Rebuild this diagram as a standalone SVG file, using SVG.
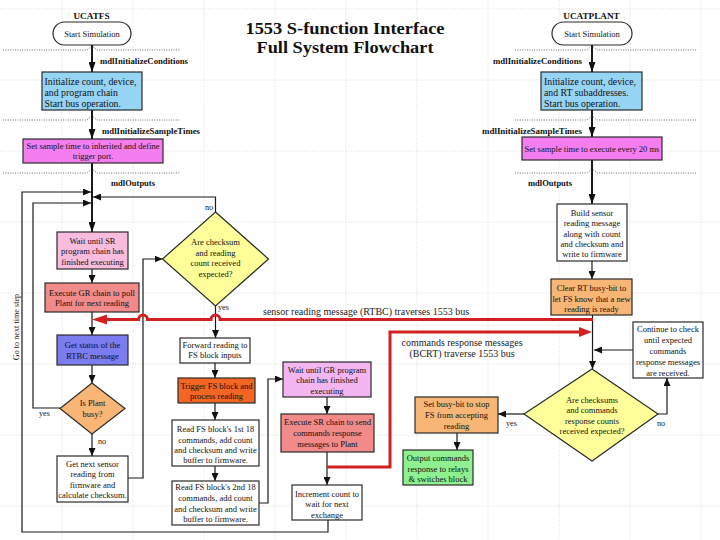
<svg xmlns="http://www.w3.org/2000/svg" width="720" height="540" viewBox="0 0 720 540">
<defs>
<style>
.grid{stroke:#cfcfcf;stroke-width:0.7;stroke-dasharray:1 1.6;fill:none}
.sep{stroke:#555;stroke-width:0.9;stroke-dasharray:1 1.4;fill:none}
.box{stroke:#2a2a2a;stroke-width:1.2}
.t{font-family:"Liberation Serif","Times New Roman",serif;font-size:8.5px;text-anchor:middle;fill:#111}
.tb{font-family:"Liberation Serif","Times New Roman",serif;font-size:9.8px;fill:#111}
.lbl{font-family:"Liberation Serif","Times New Roman",serif;font-size:8.6px;font-weight:bold;fill:#111}
.hd{font-family:"Liberation Serif","Times New Roman",serif;font-size:9.2px;font-weight:bold;text-anchor:middle;fill:#111}
.yn{font-family:"Liberation Serif","Times New Roman",serif;font-size:8.2px;fill:#222}
.bus{font-family:"Liberation Serif","Times New Roman",serif;font-size:10px;fill:#222}
.ttl{font-family:"Liberation Serif","Times New Roman",serif;font-size:17px;font-weight:bold;text-anchor:middle;fill:#111}
.c{stroke:#1a1a1a;stroke-width:1.2;fill:none;marker-end:url(#ah)}
.ct{stroke:#1a1a1a;stroke-width:2;fill:none;marker-end:url(#ahb)}
.red{stroke:#d42020;stroke-width:3;fill:none}
</style>
<marker id="ah" viewBox="0 0 8 7" refX="8" refY="3.5" markerWidth="8" markerHeight="7" markerUnits="userSpaceOnUse" orient="auto"><path d="M0,0 L8,3.5 L0,7 z" fill="#111"/></marker>
<marker id="ahb" viewBox="0 0 10 7" refX="10" refY="3.5" markerWidth="10" markerHeight="7" markerUnits="userSpaceOnUse" orient="auto"><path d="M0,0 L10,3.5 L0,7 z" fill="#111"/></marker>
</defs>
<rect width="720" height="540" fill="#ffffff"/>
<g id="grid">
<path class="grid" d="M62,0V540M133,0V540M204,0V540M275,0V540M346,0V540M417,0V540M488,0V540M559,0V540M630,0V540M701,0V540"/>
<path class="grid" d="M0,9H720M0,80H720M0,151H720M0,222H720M0,293H720M0,364H720M0,435H720M0,506H720"/>
</g>
<g id="separators">
<path class="sep" d="M3,50H87L90,47.5Q92,45.5 94,47.5L97,50H180M3,120H87L90,117.5Q92,115.5 94,117.5L97,120H180M3,173H87L90,170.5Q92,168.5 94,170.5L97,173H180"/>
<path class="sep" d="M515,50H587L590,47.5Q592,45.5 594,47.5L597,50H697M515,120H587L590,117.5Q592,115.5 594,117.5L597,120H697M515,173H587L590,170.5Q592,168.5 594,170.5L597,173H697"/>
</g>
<g id="title">
<text class="ttl" x="345" y="34" textLength="199" lengthAdjust="spacingAndGlyphs">1553 S-function Interface</text>
<text class="ttl" x="345" y="53" textLength="177" lengthAdjust="spacingAndGlyphs">Full System Flowchart</text>
</g>
<g id="connectors">
<path class="ct" d="M92,45V72"/>
<path class="ct" d="M92,110V139"/>
<path class="ct" d="M92,163V232"/>
<path class="c" d="M92,269V283"/>
<path class="c" d="M92,312V335"/>
<path class="c" d="M92,365V383"/>
<path class="c" d="M92,434V456"/>
<path class="c" d="M128,478H143V259H162.5"/>
<path class="c" d="M60,408H33V203H91"/>
<path class="c" d="M328,520V532H22V192H91"/>
<path class="c" d="M215.5,212V197H93"/>
<path class="c" d="M215.5,306V338"/>
<path class="c" d="M215,363V378"/>
<path class="c" d="M215,403V420"/>
<path class="c" d="M215,466V481"/>
<path class="c" d="M259,503H268V379H283"/>
<path class="c" d="M327,397V414"/>
<path class="c" d="M327,452V485"/>
<path class="ct" d="M592,45V72"/>
<path class="ct" d="M592,110V137"/>
<path class="ct" d="M592,160V204"/>
<path class="c" d="M592,261V279"/>
<path class="c" d="M592.5,315V369"/>
<path class="c" d="M633,350H594"/>
<path class="c" d="M658,414H667V378"/>
<path class="c" d="M524,414H498"/>
<path class="c" d="M457,433V450"/>
<path class="red" d="M593,319.5H220A4.5,4.5 0 0 0 211,319.5H147.5A4.5,4.5 0 0 0 138.5,319.5H104"/>
<polygon points="92,319.5 107,314.5 107,324.5" fill="#d42020"/>
<path class="red" d="M327,467H390V332H580"/>
<polygon points="592,332 579,327 579,337" fill="#d42020"/>
<text class="lbl" x="100" y="63.5" textLength="88" lengthAdjust="spacingAndGlyphs">mdlInitializeConditions</text>
<text class="lbl" x="102" y="134" textLength="98" lengthAdjust="spacingAndGlyphs">mdlInitializeSampleTimes</text>
<text class="lbl" x="111" y="186" textLength="44" lengthAdjust="spacingAndGlyphs">mdlOutputs</text>
<text class="lbl" x="493" y="63.5" textLength="89" lengthAdjust="spacingAndGlyphs">mdlInitializeConditions</text>
<text class="lbl" x="482" y="134" textLength="100" lengthAdjust="spacingAndGlyphs">mdlInitializeSampleTimes</text>
<text class="lbl" x="528" y="186" textLength="44" lengthAdjust="spacingAndGlyphs">mdlOutputs</text>
<text class="yn" x="205" y="209.5">no</text>
<text class="yn" x="218" y="310">yes</text>
<text class="yn" x="39" y="415.5">yes</text>
<text class="yn" x="98" y="443.5">no</text>
<text class="yn" x="506" y="426">yes</text>
<text class="yn" x="657" y="426">no</text>
<text class="yn" x="19" y="327" font-size="8.6" text-anchor="middle" transform="rotate(-90 19 327)">Go to next time step</text>
<text class="bus" x="263" y="315">sensor reading message (RTBC) traverses 1553 bus</text>
<text class="bus" x="462" y="346" text-anchor="middle">commands response messages</text>
<text class="bus" x="462" y="357" text-anchor="middle">(BCRT) traverse 1553 bus</text>
</g>
<g id="ucatfs-head"><text class="hd" x="91.5" y="19">UCATFS</text></g>
<g id="ucatplant-head"><text class="hd" x="591.5" y="19">UCATPLANT</text></g>
<g id="start-fs"><rect class="box" x="53" y="22" width="78" height="23" rx="11.5" fill="#fff"/><text class="t" x="92" y="37" font-size="10">Start Simulation</text></g>
<g id="init-fs"><rect class="box" x="42" y="72" width="100" height="38" fill="#96d4f4"/><text class="tb" x="44.5" y="84.5">Initialize count, device,</text><text class="tb" x="44.5" y="95.5">and program chain</text><text class="tb" x="44.5" y="106.5">Start bus operation.</text></g>
<g id="sample-fs"><rect class="box" x="23" y="139" width="140" height="24" fill="#f47ef0"/><text class="t" x="93" y="149"><tspan x="93" y="149">Set sample time to inherited and define</tspan><tspan x="93" y="159">trigger port.</tspan></text></g>
<g id="wait-sr"><rect class="box" x="57" y="232" width="71" height="37" fill="#f9bcdc"/><text class="t"><tspan x="92.5" y="243.5">Wait until SR</tspan><tspan x="92.5" y="254">program chain has</tspan><tspan x="92.5" y="264.5">finished executing</tspan></text></g>
<g id="exec-gr"><rect class="box" x="45" y="283" width="94" height="29" fill="#f28a8a"/><text class="t"><tspan x="92" y="296">Execute GR chain to poll</tspan><tspan x="92" y="306">Plant for next reading</tspan></text></g>
<g id="get-status"><rect class="box" x="57" y="335" width="71" height="30" fill="#7a7cf0"/><text class="t"><tspan x="92.5" y="348">Get status of the</tspan><tspan x="92.5" y="359">RTBC message</tspan></text></g>
<g id="plant-busy"><polygon class="box" points="92,383 125,408.5 92,434 60,408.5" fill="#f8b676"/><text class="t"><tspan x="92.5" y="406">Is Plant</tspan><tspan x="92.5" y="416.5">busy?</tspan></text></g>
<g id="get-next"><rect class="box" x="57" y="456" width="71" height="46" fill="#fff"/><text class="t"><tspan x="92.5" y="466.5">Get next sensor</tspan><tspan x="92.5" y="477">reading from</tspan><tspan x="92.5" y="487.5">firmware and</tspan><tspan x="92.5" y="498">calculate checksum.</tspan></text></g>
<g id="check-reading"><polygon class="box" points="215.5,212 268.5,259 215.5,306 162.5,259" fill="#ffff99"/><text class="t" font-size="8.2"><tspan x="215.5" y="245">Are checksum</tspan><tspan x="215.5" y="255.5">and reading</tspan><tspan x="215.5" y="266">count received</tspan><tspan x="215.5" y="276.5">expected?</tspan></text></g>
<g id="forward"><rect class="box" x="180" y="338" width="70" height="25" fill="#fff"/><text class="t"><tspan x="215" y="347.5">Forward reading to</tspan><tspan x="215" y="358">FS block inputs</tspan></text></g>
<g id="trigger"><rect class="box" x="178" y="378" width="77" height="25" fill="#f26522"/><text class="t" fill="#4a1000"><tspan x="216.5" y="388.5">Trigger FS block and</tspan><tspan x="216.5" y="399">process reading</tspan></text></g>
<g id="read1"><rect class="box" x="172" y="420" width="87" height="46" fill="#fff"/><text class="t"><tspan x="215.5" y="431.5">Read FS block's 1st 18</tspan><tspan x="215.5" y="442.5">commands, add count</tspan><tspan x="215.5" y="452.5">and checksum and write</tspan><tspan x="215.5" y="462.5">buffer to firmware.</tspan></text></g>
<g id="read2"><rect class="box" x="172" y="481" width="87" height="44" fill="#fff"/><text class="t"><tspan x="215.5" y="490">Read FS block's 2nd 18</tspan><tspan x="215.5" y="500.5">commands, add count</tspan><tspan x="215.5" y="511.5">and checksum and write</tspan><tspan x="215.5" y="522">buffer to firmware.</tspan></text></g>
<g id="wait-gr"><rect class="box" x="283" y="362" width="88" height="35" fill="#f4b6f0"/><text class="t"><tspan x="327" y="372.5">Wait until GR program</tspan><tspan x="327" y="383">chain has finished</tspan><tspan x="327" y="394">executing</tspan></text></g>
<g id="exec-sr"><rect class="box" x="281" y="414" width="93" height="38" fill="#f28a8a"/><text class="t"><tspan x="327.5" y="425">Execute SR chain to send</tspan><tspan x="327.5" y="436">commands response</tspan><tspan x="327.5" y="446.5">messages to Plant</tspan></text></g>
<g id="increment"><rect class="box" x="292" y="485" width="70" height="35" fill="#fff"/><text class="t"><tspan x="327" y="496.5">Increment count to</tspan><tspan x="327" y="507">wait for next</tspan><tspan x="327" y="517.5">exchange</tspan></text></g>
<g id="start-plant"><rect class="box" x="552" y="22" width="80" height="23" rx="11.5" fill="#fff"/><text class="t" x="592" y="37" font-size="10">Start Simulation</text></g>
<g id="init-plant"><rect class="box" x="541" y="72" width="101" height="38" fill="#96d4f4"/><text class="tb" x="544" y="84.5" font-size="10.2">Initialize count, device,</text><text class="tb" x="544" y="95.5" font-size="10.2">and RT subaddresses.</text><text class="tb" x="544" y="106.5" font-size="10.2">Start bus operation.</text></g>
<g id="sample-plant"><rect class="box" x="522" y="137" width="140" height="23" fill="#f47ef0"/><text class="t" x="592" y="152">Set sample time to execute every 20 ms</text></g>
<g id="build"><rect class="box" x="557" y="204" width="70" height="57" fill="#fff"/><text class="t"><tspan x="592" y="215.5">Build sensor</tspan><tspan x="592" y="226">reading message</tspan><tspan x="592" y="236.5">along with count</tspan><tspan x="592" y="246.5">and checksum and</tspan><tspan x="592" y="257">write to firmware</tspan></text></g>
<g id="clear-rt"><rect class="box" x="551" y="279" width="81" height="36" fill="#f8b676"/><text class="t"><tspan x="591.5" y="290.5">Clear RT busy-bit to</tspan><tspan x="591.5" y="301.5">let FS know that a new</tspan><tspan x="591.5" y="311.5">reading is ready</tspan></text></g>
<g id="continue"><rect class="box" x="633" y="322" width="70" height="56" fill="#fff"/><text class="t"><tspan x="668" y="332">Continue to check</tspan><tspan x="668" y="343">until expected</tspan><tspan x="668" y="354">commands</tspan><tspan x="668" y="365">response messages</tspan><tspan x="668" y="375.5">are received.</tspan></text></g>
<g id="check-commands"><polygon class="box" points="592,369 658,414 592,461 524,414" fill="#ffff99"/><text class="t" font-size="8.2"><tspan x="592" y="402.5">Are checksums</tspan><tspan x="592" y="413">and commands</tspan><tspan x="592" y="423.5">response counts</tspan><tspan x="592" y="433.5">received expected?</tspan></text></g>
<g id="set-busy"><rect class="box" x="415" y="397" width="83" height="36" fill="#f8b676"/><text class="t"><tspan x="456.5" y="407">Set busy-bit to stop</tspan><tspan x="456.5" y="418">FS from accepting</tspan><tspan x="456.5" y="429">reading</tspan></text></g>
<g id="output"><rect class="box" x="403" y="450" width="70" height="35" fill="#8ef08e"/><text class="t"><tspan x="438" y="460.5">Output commands</tspan><tspan x="438" y="471.5">response to relays</tspan><tspan x="438" y="481.5">&amp; switches block</tspan></text></g>
</svg>
